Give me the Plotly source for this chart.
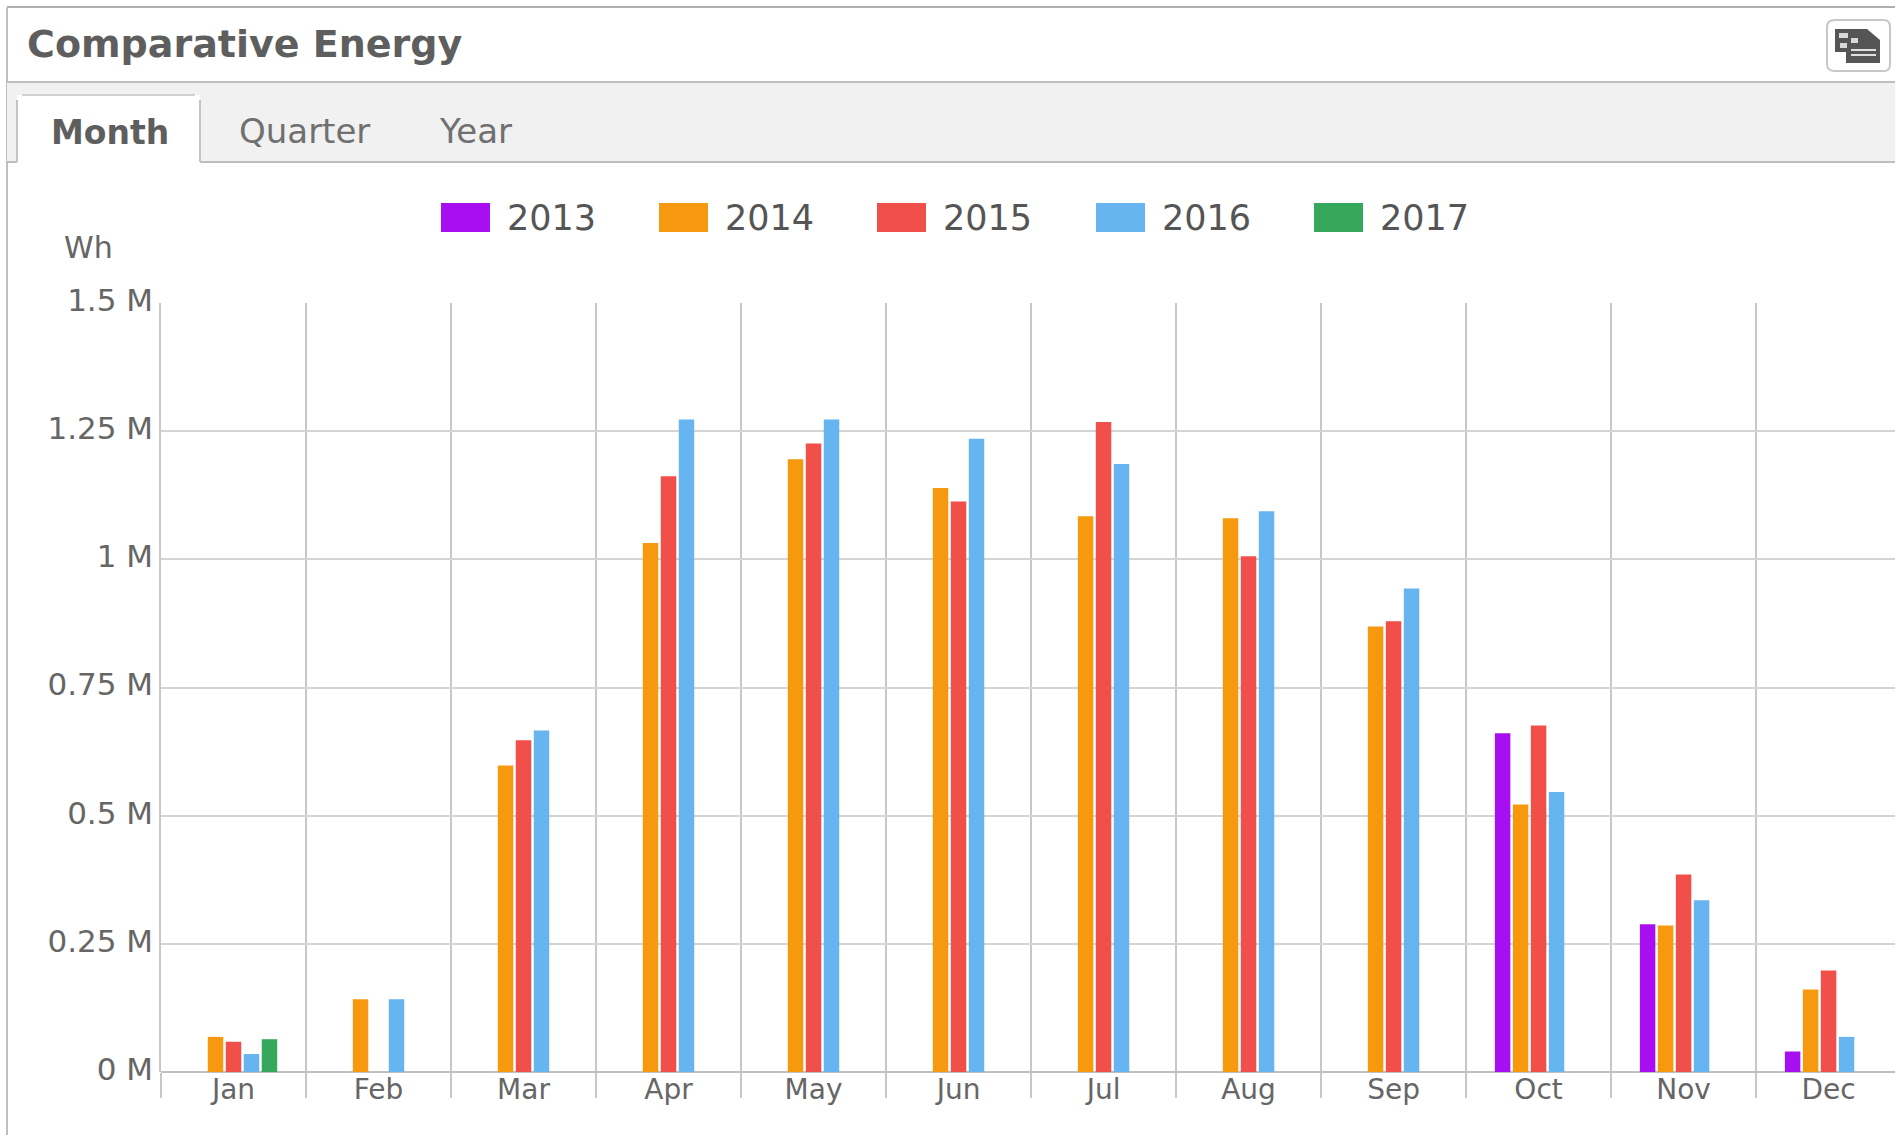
import plotly.graph_objects as go

W, H = 1895, 1135
months = ["Jan", "Feb", "Mar", "Apr", "May", "Jun", "Jul", "Aug", "Sep", "Oct", "Nov", "Dec"]
y2013 = [None, None, None, None, None, None, None, None, None, 0.661, 0.288, 0.040]
y2014 = [0.0685, 0.142, 0.598, 1.032, 1.195, 1.139, 1.084, 1.080, 0.869, 0.522, 0.286, 0.161]
y2015 = [0.059, None, 0.647, 1.162, 1.226, 1.113, 1.268, 1.006, 0.879, 0.676, 0.385, 0.198]
y2016 = [0.035, 0.142, 0.666, 1.273, 1.273, 1.235, 1.186, 1.094, 0.943, 0.546, 0.335, 0.0685]
y2017 = [0.064, None, None, None, None, None, None, None, None, None, None, None]
years = ["2013", "2014", "2015", "2016", "2017"]
colors = ["#a80ff0", "#f7990f", "#f04f4a", "#66b5f0", "#36a85c"]
values = [y2013, y2014, y2015, y2016, y2017]
ytickvals = [0, 0.25, 0.5, 0.75, 1, 1.25, 1.5]
yticktext = ["0 M", "0.25 M", "0.5 M", "0.75 M", "1 M", "1.25 M", "1.5 M"]
legend_x = [441, 659, 877, 1096, 1314]


def px(x):
    return x / W


def py(y):
    return 1 - y / H


def rect(x0, y0, x1, y1, **kw):
    return dict(type="rect", xref="paper", yref="paper", x0=px(x0), x1=px(x1),
                y0=py(y0), y1=py(y1), layer="below", **kw)


def hline(x0, x1, y, color="#b4b4b4", width=2):
    return dict(type="line", xref="paper", yref="paper", x0=px(x0), x1=px(x1),
                y0=py(y), y1=py(y), layer="below", line=dict(color=color, width=width))


def vline(x, y0, y1, color="#b8b8b8", width=2):
    return dict(type="line", xref="paper", yref="paper", x0=px(x), x1=px(x),
                y0=py(y0), y1=py(y1), layer="below", line=dict(color=color, width=width))


def pathshape(points, fill="#555555"):
    d = "M" + " L".join(f"{px(a):.5f},{py(b):.5f}" for a, b in points) + " Z"
    return dict(type="path", xref="paper", yref="paper", path=d, fillcolor=fill,
                line=dict(width=0), layer="above")


def text(x, y, s, size, color="#666666", family="DejaVu Sans", anchor="left", bold=False):
    return dict(xref="paper", yref="paper", x=px(x), y=py(y), xanchor=anchor, yanchor="middle",
                showarrow=False, text=f"<b>{s}</b>" if bold else s,
                font=dict(size=size, color=color, family=family))


fig = go.Figure()
for name, vals, col in zip(years, values, colors):
    fig.add_trace(go.Bar(name=name, x=months, y=vals, marker=dict(color=col, line=dict(width=0)),
                         showlegend=False))

shapes = [
    hline(7, W, 7, "#b0b0b0", 2),
    vline(7, 7, H, "#c0c0c0", 2),
    rect(7, 82, W, 162, fillcolor="#f1f1f1", line=dict(width=0)),
    hline(7, W, 82, "#bdbdbd", 2),
    hline(7, W, 162, "#bdbdbd", 2),
    rect(17, 95, 200, 165, fillcolor="#ffffff", line=dict(width=0)),
    vline(17, 100, 162, "#c4c4c4", 2),
    vline(200, 100, 162, "#c4c4c4", 2),
    hline(22, 195, 95, "#d0d0d0", 2),
    dict(type="path", xref="paper", yref="paper", layer="below",
         path=(f"M{px(1835)},{py(20)} L{px(1884)},{py(20)} Q{px(1890)},{py(20)} {px(1890)},{py(27)} "
               f"L{px(1890)},{py(64)} Q{px(1890)},{py(71)} {px(1884)},{py(71)} L{px(1835)},{py(71)} "
               f"Q{px(1827)},{py(71)} {px(1827)},{py(64)} L{px(1827)},{py(27)} Q{px(1827)},{py(20)} "
               f"{px(1835)},{py(20)} Z"),
         fillcolor="#ffffff", line=dict(color="#c8c8c8", width=2)),
    pathshape([(1835, 29), (1867, 29), (1880, 40), (1880, 63), (1846, 63), (1846, 52), (1835, 52)]),
    pathshape([(1839, 33), (1848, 33), (1848, 38), (1839, 38)], "#d8d8d8"),
    pathshape([(1851, 38), (1858, 38), (1858, 43), (1851, 43)], "#d8d8d8"),
    pathshape([(1840, 43), (1847, 43), (1847, 48), (1840, 48)], "#d8d8d8"),
    pathshape([(1851, 49), (1876, 49), (1876, 51), (1851, 51)], "#e0e0e0"),
    pathshape([(1851, 54), (1876, 54), (1876, 56), (1851, 56)], "#e0e0e0"),
]
annotations = [
    text(25, 44, "Comparative Energy", 38, "#5e5e5e", bold=True),
    text(49, 133, "Month", 33, "#5e5e5e", bold=True),
    text(237, 131, "Quarter", 34, "#707070"),
    text(437, 131, "Year", 34, "#707070"),
    text(62, 248, "Wh", 30, "#666666"),
]
for x, name, col in zip(legend_x, years, colors):
    shapes.append(rect(x, 203, x + 49, 232, fillcolor=col, line=dict(width=0)))
    annotations.append(text(x + 64, 218, name, 35, "#555555"))

fig.update_layout(
    width=W, height=H, margin=dict(l=0, r=0, t=0, b=0, autoexpand=False),
    paper_bgcolor="#ffffff", plot_bgcolor="#ffffff", showlegend=False,
    barmode="group", bargap=0.38, bargroupgap=0.14,
    font=dict(family="DejaVu Sans", color="#666666"),
    shapes=shapes, annotations=annotations,
    xaxis=dict(domain=[161 / W, 1], type="category", categoryorder="array", categoryarray=months,
               range=[-0.5, 11.458], tickson="boundaries", showgrid=True, gridcolor="#c8c8c8", gridwidth=1.5,
               ticks="outside", ticklen=25, tickcolor="#c8c8c8", tickwidth=1.5, ticklabelstandoff=-2,
               tickfont=dict(size=28, color="#666666"), showline=False, zeroline=False),
    yaxis=dict(domain=[(H - 1072) / H, (H - 303) / H], range=[0, 1.5], tickmode="array",
               tickvals=ytickvals, ticktext=yticktext, showgrid=True, gridcolor="#d4d4d4", gridwidth=1.5,
               zeroline=True, zerolinecolor="#c0c0c0", zerolinewidth=1.5, ticks="", ticklabelshift=-3,
               ticklabelstandoff=0, tickfont=dict(size=31, color="#666666"),
               showline=True, linecolor="#c8c8c8", linewidth=1.5),
)

fig.write_html("out.html", config=dict(displayModeBar=False),
               post_script="document.body.style.margin='0';document.documentElement.style.overflow='hidden';")
